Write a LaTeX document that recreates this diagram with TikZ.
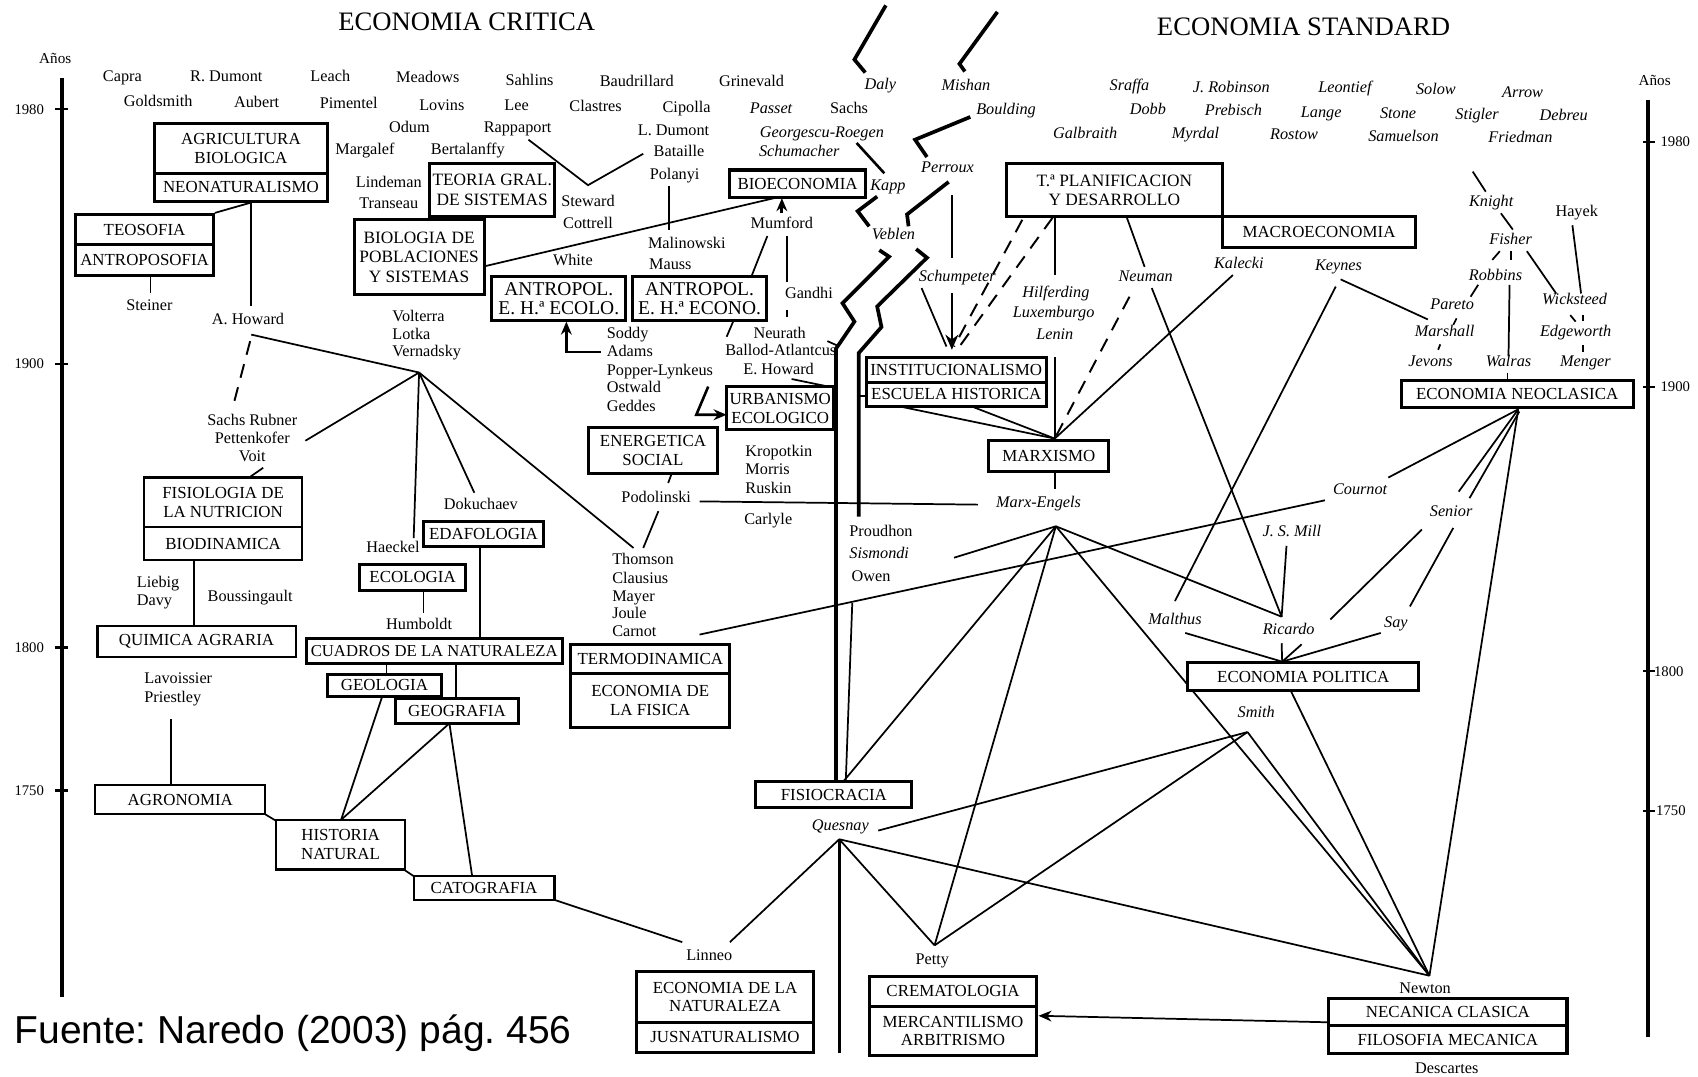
\documentclass[tikz,border=0pt]{standalone}
\usepackage{fontspec}
\setmainfont{Liberation Serif}
\newfontfamily\fuentefont{Liberation Sans}
\usetikzlibrary{arrows.meta,calc}
\pgfdeclarelayer{background}
\pgfsetlayers{background,main}
\frenchspacing
\begin{document}
\begin{tikzpicture}[x=0.5pt,y=-0.5pt,
 nm/.style={inner sep=0pt, anchor=mid, font=\fontsize{7.5}{8.5}\selectfont},
 nml/.style={nm, anchor=mid west},
 itn/.style={nm, font=\fontsize{7.5}{8.5}\selectfont\itshape},
 itl/.style={itn, anchor=mid west},
 bx/.style 2 args={draw, line width=1.4pt, fill=white, inner sep=0pt, align=center,
   font=\fontsize{7.8}{8.6}\selectfont, minimum width=#1*0.5pt, minimum height=#2*0.5pt},
 tbx/.style 2 args={bx={#1}{#2}, line width=1pt},
 ln/.style={line width=0.8pt},
 thk/.style={line width=1.7pt, line join=miter},
 dsh/.style={line width=0.9pt, dash pattern=on 6.5pt off 4.5pt},
 ax/.style={line width=2pt},
 yr/.style={inner sep=0pt, font=\fontsize{6.8}{8}\selectfont},
 arr/.style={-{Stealth[length=6pt,width=5pt]}}
]
\useasboundingbox (0,0) rectangle (1568,994);
\begin{pgfonlayer}{background}
\fill[white] (0,0) rectangle (1568,994);
\end{pgfonlayer}

% ---------- titles ----------
\node[inner sep=0pt, anchor=base west, font=\fontsize{12.3}{14}\selectfont] (tcrit) at (312,28) {ECONOMIA CRITICA};
\node[inner sep=0pt, anchor=base west, font=\fontsize{12.3}{14}\selectfont] (tstd) at (1068,33) {ECONOMIA STANDARD};
\node[inner sep=0pt, anchor=base west, font=\fuentefont\fontsize{18}{20}\selectfont] (fuente) at (13,964) {Fuente: Naredo (2003) pág. 456};

% ---------- axes ----------
\draw[ax] (57,72) -- (57,921);
\draw[ax] (1522,92) -- (1522,958);
\foreach \yy in {101,336,598,730} \draw[line width=1pt] (51,\yy) -- (63,\yy);
\foreach \yy in {131,357,620,749} \draw[line width=1pt] (1517,\yy) -- (1528,\yy);
\node[yr, font=\fontsize{7}{8}\selectfont] (anosL) at (51,54) {Años};
\node[yr, anchor=east] (l1980) at (41,101) {1980};
\node[yr, anchor=east] (l1900) at (41,336) {1900};
\node[yr, anchor=east] (l1800) at (41,598) {1800};
\node[yr, anchor=east] (l1750) at (41,730) {1750};
\node[yr, font=\fontsize{7}{8}\selectfont] (anosR) at (1528,74) {Años};
\node[yr, anchor=west] (r1980) at (1533,131) {1980};
\node[yr, anchor=west] (r1900) at (1533,357) {1900};
\node[yr, anchor=west] (r1800) at (1527,620) {1800};
\node[yr, anchor=west] (r1750) at (1529,749) {1750};

% ---------- hubs ----------
\coordinate (hubV) at (387,344);
\coordinate (howc) at (232,309);
\coordinate (hubM) at (975,486);
\coordinate (hubN) at (1402,378);
\coordinate (ricP) at (1183.5,569.5);
\coordinate (newP) at (1320,901);
\coordinate (smithP) at (1152,676);
\coordinate (quesP) at (775,775);
\coordinate (pettyP) at (863,873);
\coordinate (marxT) at (974,405);
\coordinate (ecpT) at (1184,611);

% ---------- boxes ----------
\node[bx={159}{46}] (agri) at (222.5,137) {AGRICULTURA\\BIOLOGICA};
\node[bx={159}{26}] (neo) at (222.5,173) {NEONATURALISMO};
\node[bx={127}{28}] (teo) at (133.5,212) {TEOSOFIA};
\node[bx={127}{28}] (antro) at (133.5,240) {ANTROPOSOFIA};
\node[bx={115}{49}, font=\fontsize{8}{9}\selectfont] (teoria) at (454.5,175.5) {TEORIA GRAL.\\DE SISTEMAS};
\node[bx={120}{69}, font=\fontsize{8}{8.9}\selectfont] (biopob) at (387,237.5) {BIOLOGIA DE\\POBLACIONES\\Y SISTEMAS};
\node[bx={124}{41}, font=\fontsize{9}{8.8}\selectfont] (ecolo) at (516,275.5) {ANTROPOL.\\E. H.ª ECOLO.};
\node[bx={124}{41}, font=\fontsize{9}{8.8}\selectfont] (econo) at (646,275.5) {ANTROPOL.\\E. H.ª ECONO.};
\node[bx={125}{25}] (bioecon) at (736.5,169.5) {BIOECONOMIA};
\node[bx={200}{49}, font=\fontsize{8}{8.6}\selectfont] (tplan) at (1029,175.5) {T.ª PLANIFICACION\\Y DESARROLLO};
\node[bx={178}{29}] (macro) at (1218,214.5) {MACROECONOMIA};
\node[bx={166}{23}] (inst) at (883,341.5) {INSTITUCIONALISMO};
\node[bx={166}{22}] (escuela) at (883,364) {ESCUELA HISTORICA};
\node[bx={99}{40}] (urban) at (720.5,377) {URBANISMO\\ECOLOGICO};
\node[bx={120}{42}] (energ) at (603,416) {ENERGETICA\\SOCIAL};
\node[bx={111}{28}] (marxismo) at (968.5,421) {MARXISMO};
\node[bx={214}{25}] (neoc) at (1401,363.5) {ECONOMIA NEOCLASICA};
\node[tbx={146}{46}] (fisio) at (206,464) {FISIOLOGIA DE\\LA NUTRICION};
\node[tbx={146}{30}] (biodin) at (206,502) {BIODINAMICA};
\node[bx={111}{23}] (edaf) at (446.5,493.5) {EDAFOLOGIA};
\node[bx={98}{24}] (ecol) at (381,533) {ECOLOGIA};
\node[tbx={183}{29}] (quim) at (181.5,592.5) {QUIMICA AGRARIA};
\node[bx={236}{23}, font=\fontsize{7.7}{8.6}\selectfont] (cuadros) at (401,601.5) {CUADROS DE LA NATURALEZA};
\node[bx={106}{20}] (geol) at (355,633) {GEOLOGIA};
\node[bx={114}{23}] (geog) at (422,656.5) {GEOGRAFIA};
\node[bx={147}{27}] (termo) at (600.5,608.5) {TERMODINAMICA};
\node[bx={147}{50}] (econfis) at (600.5,647) {ECONOMIA DE\\LA FISICA};
\node[tbx={157}{27}] (agron) at (166.5,738.5) {AGRONOMIA};
\node[tbx={119}{46}] (hist) at (314.5,780) {HISTORIA\\NATURAL};
\node[tbx={130}{22}] (cato) at (447,820) {CATOGRAFIA};
\node[bx={144}{24}] (fisioc) at (770,734) {FISIOCRACIA};
\node[bx={213}{26}] (ecpol) at (1203.5,625) {ECONOMIA POLITICA};
\node[bx={163}{47}] (econat) at (669.5,920.5) {ECONOMIA DE LA\\NATURALEZA};
\node[bx={163}{28}] (jusnat) at (669.5,958) {JUSNATURALISMO};
\node[bx={154}{27}] (cremat) at (880,915.5) {CREMATOLOGIA};
\node[bx={154}{46}] (mercant) at (880,952) {MERCANTILISMO\\ARBITRISMO};
\node[bx={220}{25}] (necan) at (1337,934.5) {NECANICA CLASICA};
\node[bx={220}{26}] (filos) at (1337,960) {FILOSOFIA MECANICA};

% ---------- names (upright) ----------
\node[nm] (capra) at (113,71) {Capra};
\node[nm] (rdumont) at (209,71) {R. Dumont};
\node[nm] (leach) at (305,71) {Leach};
\node[nm] (meadows) at (395,72) {Meadows};
\node[nm] (sahlins) at (489,74) {Sahlins};
\node[nm] (baudr) at (588,75) {Baudrillard};
\node[nm] (grinev) at (694,75) {Grinevald};
\node[nm] (goldsm) at (146,94) {Goldsmith};
\node[nm] (aubert) at (237,95) {Aubert};
\node[nm] (piment) at (322,96) {Pimentel};
\node[nm] (lovins) at (408,97) {Lovins};
\node[nm] (lee) at (477,97) {Lee};
\node[nm] (clastres) at (550,98) {Clastres};
\node[nm] (cipolla) at (634,99) {Cipolla};
\node[nm] (sachs) at (784,100) {Sachs};
\node[nm] (odum) at (378,118) {Odum};
\node[nm] (rappa) at (478,118) {Rappaport};
\node[nm] (ldumont) at (622,121) {L. Dumont};
\node[nm] (margalef) at (337,138) {Margalef};
\node[nm] (bertal) at (432,138) {Bertalanffy};
\node[nm] (bataille) at (627,140) {Bataille};
\node[nm] (polanyi) at (623,161) {Polanyi};
\node[nm] (lindeman) at (359,169) {Lindeman};
\node[nm] (transeau) at (359,188) {Transeau};
\node[nm] (steward) at (543,186) {Steward};
\node[nm] (cottrell) at (543,206) {Cottrell};
\node[nm] (mumford) at (722,206) {Mumford};
\node[nml] (malin) at (598,225) {Malinowski};
\node[nml] (mauss) at (599,244) {Mauss};
\node[nm] (white) at (529,241) {White};
\node[nm] (gandhi) at (747,271) {Gandhi};
\node[nm] (steiner) at (138,282) {Steiner};
\node[nm] (ahoward) at (229,295) {A. Howard};
\node[nml] (volterra) at (362,292) {Volterra};
\node[nml] (lotka) at (362,309) {Lotka};
\node[nml] (vernad) at (362,325) {Vernadsky};
\node[nml] (soddy) at (560,308) {Soddy};
\node[nml] (adams) at (560,325) {Adams};
\node[nml] (popper) at (560,342) {Popper-Lynkeus};
\node[nml] (ostwald) at (560,358) {Ostwald};
\node[nml] (geddes) at (560,375) {Geddes};
\node[nm] (neurath) at (720,308) {Neurath};
\node[nm] (ballod) at (721,324) {Ballod-Atlantcus};
\node[nm] (ehoward) at (719,341) {E. Howard};
\node[nm] (sachsr) at (233,388) {Sachs Rubner};
\node[nm] (pettenk) at (233,405) {Pettenkofer};
\node[nm] (voit) at (233,422) {Voit};
\node[nml] (kropot) at (688,417) {Kropotkin};
\node[nml] (morris) at (688,434) {Morris};
\node[nml] (ruskin) at (688,451) {Ruskin};
\node[nml] (carlyle) at (687,480) {Carlyle};
\node[nm] (podol) at (606,459) {Podolinski};
\node[nm] (dokuch) at (444,466) {Dokuchaev};
\node[nm] (haeckel) at (363,506) {Haeckel};
\node[nm] (humboldt) at (387,577) {Humboldt};
\node[nml] (thomson) at (565,517) {Thomson};
\node[nml] (clausius) at (565,534) {Clausius};
\node[nml] (mayer) at (565,551) {Mayer};
\node[nml] (joule) at (565,567) {Joule};
\node[nml] (carnot) at (565,583) {Carnot};
\node[nml] (liebig) at (126,538) {Liebig};
\node[nml] (davy) at (126,555) {Davy};
\node[nm] (bouss) at (231,551) {Boussingault};
\node[nml] (lavoi) at (133,627) {Lavoissier};
\node[nml] (priest) at (133,644) {Priestley};
\node[nml] (proudhon) at (784,491) {Proudhon};
\node[itl] (sismondi) at (784,511) {Sismondi};
\node[nml] (owen) at (786,532) {Owen};
\node[nm] (linneo) at (655,882) {Linneo};
\node[nm] (petty) at (861,886) {Petty};
\node[nm] (newton) at (1316,913) {Newton};
\node[nm] (descartes) at (1336,987) {Descartes};
\node[nm] (hayek) at (1456,195) {Hayek};

% ---------- names (italic) ----------
\node[itn] (daly) at (813,78) {Daly};
\node[itn] (mishan) at (892,79) {Mishan};
\node[itn] (passet) at (712,100) {Passet};
\node[itn] (boulding) at (929,101) {Boulding};
\node[itn] (georg) at (759,122) {Georgescu-Roegen};
\node[itn] (schumach) at (738,140) {Schumacher};
\node[itn] (kapp) at (820,171) {Kapp};
\node[itn] (perroux) at (875,155) {Perroux};
\node[itn] (veblen) at (825,217) {Veblen};
\node[itn] (schump) at (884,255) {Schumpeter};
\node[itn] (galbr) at (1002,123) {Galbraith};
\node[itn] (sraffa) at (1043,79) {Sraffa};
\node[itn] (jrobin) at (1137,81) {J. Robinson};
\node[itn] (leontief) at (1242,81) {Leontief};
\node[itn] (solow) at (1326,83) {Solow};
\node[itn] (arrow) at (1406,85) {Arrow};
\node[itn] (dobb) at (1060,101) {Dobb};
\node[itn] (prebisch) at (1139,102) {Prebisch};
\node[itn] (lange) at (1220,104) {Lange};
\node[itn] (stone) at (1291,105) {Stone};
\node[itn] (stigler) at (1364,106) {Stigler};
\node[itn] (debreu) at (1444,107) {Debreu};
\node[itn] (myrdal) at (1104,123) {Myrdal};
\node[itn] (rostow) at (1195,124) {Rostow};
\node[itn] (samuel) at (1296,126) {Samuelson};
\node[itn] (friedman) at (1404,127) {Friedman};
\node[itn] (knight) at (1377,186) {Knight};
\node[itn] (fisher) at (1395,221) {Fisher};
\node[itn] (robbins) at (1381,254) {Robbins};
\node[itn] (pareto) at (1341,281) {Pareto};
\node[itn] (wickst) at (1454,277) {Wicksteed};
\node[itn] (marshall) at (1334,306) {Marshall};
\node[itn] (edgew) at (1455,306) {Edgeworth};
\node[itn] (jevons) at (1321,334) {Jevons};
\node[itn] (walras) at (1393,334) {Walras};
\node[itn] (menger) at (1464,334) {Menger};
\node[itn] (kalecki) at (1144,243) {Kalecki};
\node[itn] (keynes) at (1236,245) {Keynes};
\node[itn] (neuman) at (1058,255) {Neuman};
\node[itn] (hilf) at (975,270) {Hilferding};
\node[itn] (luxem) at (973,289) {Luxemburgo};
\node[itn] (lenin) at (974,309) {Lenin};
\node[itn] (marxeng) at (959,464) {Marx-Engels};
\node[itn] (cournot) at (1256,452) {Cournot};
\node[itn] (senior) at (1340,472) {Senior};
\node[itn] (jsmill) at (1193,491) {J. S. Mill};
\node[itn] (malthus) at (1085,572) {Malthus};
\node[itn] (ricardo) at (1190,581) {Ricardo};
\node[itn] (say) at (1289,575) {Say};
\node[itn] (smith) at (1160,658) {Smith};
\node[itn] (quesnay) at (776,762) {Quesnay};

% ---------- connectors ----------
\begin{pgfonlayer}{background}
% left part
\draw[ln] (teo.north east) -- (232,187);
\draw[ln] (232,186) -- (232,283);
\draw[ln] (139,254) -- (139,271);
\draw[ln] (howc) -- (hubV);
\draw[dsh] (231,315) -- (216,372);
\draw[ln] (hubV) -- (282,407);
\draw[ln] (hubV) -- (382,497);
\draw[ln] (hubV) -- (438,455);
\draw[ln] (hubV) -- (585,506);
\draw[ln] (230,441) -- (243,432);
\draw[ln] (179,517) -- (179,578);
\draw[ln] (391,545) -- (391,566);
\draw[ln] (443,505) -- (443,590);
\draw[ln] (357,613) -- (357,623);
\draw[ln] (421,613) -- (421,645);
\draw[ln] (353,643) -- (315,757);
\draw[ln] (415,668) -- (315,757);
\draw[ln] (415,668) -- (436,809);
\draw[ln] (158,664) -- (158,725);
\draw[ln] (245,752) -- (255,758);
\draw[ln] (373,803) -- (382,809);
\draw[ln] (512,831) -- (630,870);
% middle
\draw[ln] (488,129) -- (543,171) -- (594,142);
\draw[ln] (447,246) -- (719,182);
\draw[arr, line width=1.4pt] (722,197) -- (722,183);
\draw[ln] (618,172) -- (618,212);
\draw[ln] (708.6,218) -- (694,255);
\draw[ln] (726.6,218) -- (726.6,260);
\draw[ln] (726.6,286) -- (726.6,293);
\draw[ln] (677,297) -- (671,311);
\draw[arr, line width=1.2pt] (555,325) -- (523,325) -- (523,297);
\draw[arr, line width=1.2pt] (654,357) -- (643,383) -- (671,383);
\draw[ln] (731,350) -- (765,357);
\draw[ln] (764,315) -- (773,319);
\draw[ln] (620,438) -- (617,446);
\draw[ln] (608,472) -- (594,506);
\draw[ln] (646,463) -- (903,466);
\draw[ln] (646,586) -- (1223.5,462);
% economia standard, heavy strokes
\draw[thk] (818,5) -- (789,55) -- (799,67);
\draw[thk] (921,11) -- (886,59) -- (891,66);
\draw[thk] (896,108) -- (845,129) -- (856,145);
\draw[line width=1.2pt] (791,132) -- (816.6,160);
\draw[thk] (810,181.5) -- (792,195) -- (802.6,209);
\draw[thk] (876,168) -- (837.6,198) -- (839,209);
\draw[ln] (879,180) -- (879,238);
\draw[thk] (812,231) -- (821,237) -- (778,280) -- (789,297) -- (772,322) -- (772,723);
\draw[thk] (846,230) -- (856,238) -- (810,283) -- (814,302) -- (793,326) -- (793,477);
\draw[ln] (793,366) -- (800,366);
\draw[ln] (851,266) -- (874,320);
\draw[ln, -{Stealth[length=7pt,width=6pt]}] (879,271) -- (879,323);
\draw[dsh] (944,203) -- (881,320);
\draw[dsh] (972,201) -- (886,320);
\draw[ln] (974,201) -- (974,254);
\draw[ln] (1040.6,201) -- (1057,246.5);
\draw[dsh] (1043,274) -- (marxT);
\draw[ln] (974,330) -- (marxT);
\draw[ln] (834,376) -- (marxT);
\draw[ln] (899,376) -- (marxT);
\draw[ln] (1138.5,254) -- (marxT);
\draw[ln] (974,435) -- (974,452);
\draw[ln] (hubM) -- (881,515);
\draw[ln] (hubM) -- (778.5,722);
\draw[ln] (hubM) -- (pettyP);
\draw[ln] (hubM) -- (ricP);
\draw[ln] (hubM) -- (newP);
\draw[ln] (787,557) -- (781,722);
\draw[ln] (1063.6,266) -- (ricP);
\draw[ln] (1233.5,264.6) -- (1085,555);
\draw[ln] (1238,258) -- (1318.5,295);
\draw[ln] (1360,158.5) -- (1372,177);
\draw[ln] (1386,197) -- (1397,212);
\draw[ln] (1452,208) -- (1460,271);
\draw[ln] (1385,232) -- (1378,240);
\draw[ln] (1395,232) -- (1395,240);
\draw[ln] (1410,232) -- (1437,271);
\draw[ln] (1365,263) -- (1358,274);
\draw[ln] (1394,263) -- (1393,329);
\draw[ln] (1345,294) -- (1342,300);
\draw[ln] (1450,291) -- (1455,297);
\draw[ln] (1462,291) -- (1462,296);
\draw[ln] (1330,318) -- (1328,323);
\draw[ln] (1462,319) -- (1462,325);
\draw[ln] (1392,344) -- (1392,350);
\draw[ln] (hubN) -- (1282,441);
\draw[ln] (hubN) -- (1347,454);
\draw[ln] (1403,380) -- (1357,460);
\draw[ln] (hubN) -- (newP);
\draw[ln] (1313,489) -- (1228.5,572);
\draw[ln] (1342,487.5) -- (1302,560);
\draw[ln] (1188,504) -- (ricP);
\draw[ln] (1094.5,584.5) -- (ecpT);
\draw[ln] (1183.5,594) -- (ecpT);
\draw[ln] (1202,595) -- (ecpT);
\draw[ln] (1275,584.5) -- (ecpT);
\draw[ln] (1192,638) -- (newP);
\draw[ln] (smithP) -- (newP);
\draw[ln] (811,767) -- (smithP);
\draw[ln] (pettyP) -- (smithP);
\draw[ln] (quesP) -- (674,870);
\draw[line width=1.3pt] (quesP) -- (775,972);
\draw[ln] (quesP) -- (pettyP);
\draw[ln] (quesP) -- (newP);
\draw[arr, ln] (necan.west |- 0,944) -- (959,938);
\end{pgfonlayer}
\end{tikzpicture}
\end{document}
